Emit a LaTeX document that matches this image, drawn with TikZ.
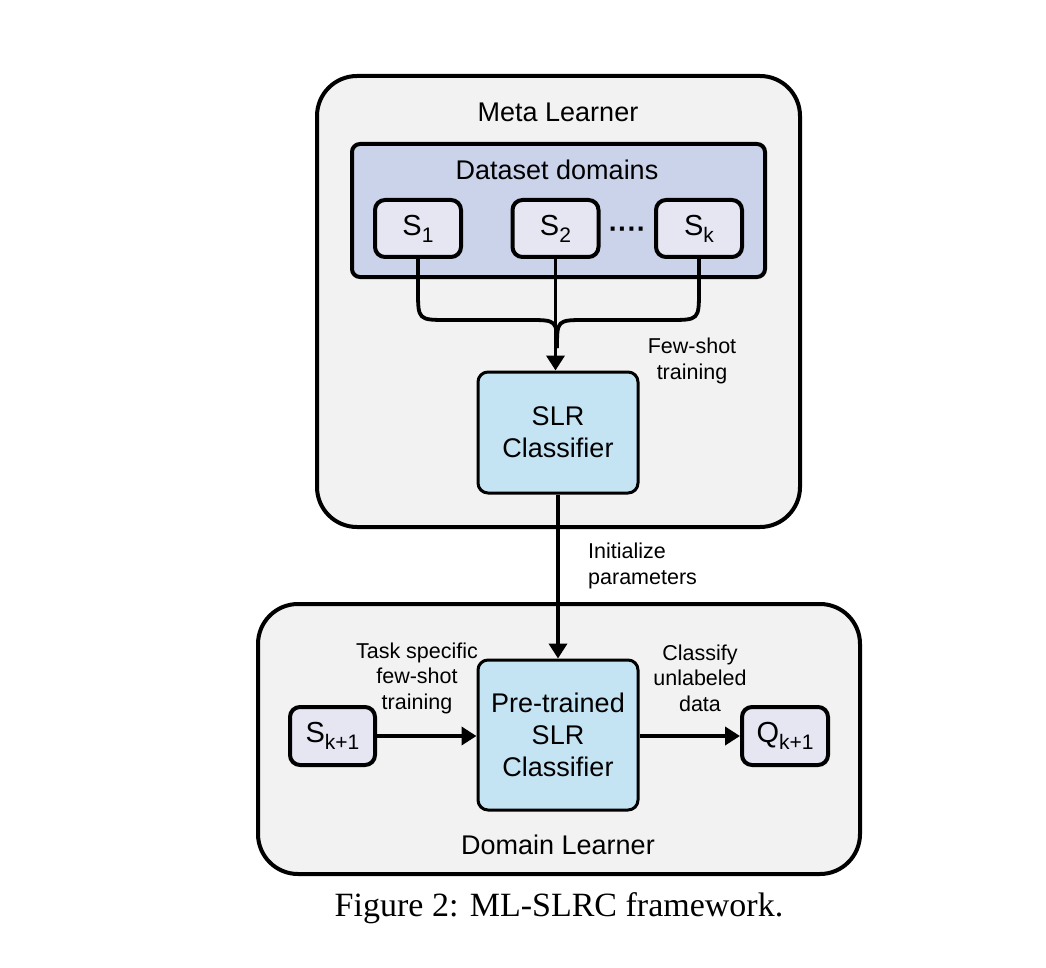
\documentclass[tikz,border=0pt]{standalone}
\usepackage{fontspec}
\setmainfont{Liberation Sans}
\newfontfamily\capfont{Liberation Serif}
\usetikzlibrary{arrows.meta}
\definecolor{outerfill}{HTML}{F2F2F2}
\definecolor{domfill}{HTML}{CBD3EA}
\definecolor{sfill}{HTML}{E6E6F3}
\definecolor{clsfill}{HTML}{C4E4F4}
\newcommand\lowsub[1]{\raisebox{-7pt}{\fontsize{21}{21}\selectfont #1}}
\tikzset{
  outerbox/.style={draw=black, line width=4pt, fill=outerfill, rounded corners=40pt, inner sep=0pt},
  dombox/.style={draw=black, line width=4pt, fill=domfill, rounded corners=8pt, inner sep=0pt},
  sbox/.style={draw=black, line width=4pt, fill=sfill, rounded corners=10pt, inner sep=0pt,
    minimum width=86pt, minimum height=57pt, font=\fontsize{29}{32}\selectfont},
  clsbox/.style={draw=black, line width=3pt, fill=clsfill, rounded corners=10pt, inner sep=0pt,
    minimum width=160pt, align=center, font=\fontsize{27}{32}\selectfont},
  title/.style={font=\fontsize{27}{32}\selectfont, inner sep=0pt},
  lbl/.style={font=\fontsize{21.5}{25.5}\selectfont, align=center, inner sep=0pt},
  conn/.style={line width=3.8pt},
  arr/.style={line width=3.8pt, -{Triangle[length=15pt,width=18pt]}},
}
\begin{document}
\begin{tikzpicture}[x=1pt,y=-1pt]
\useasboundingbox (0,0) rectangle (1046,968);
\fill[white] (0,0) rectangle (1046,968);

% Meta learner
\node[outerbox, minimum width=483pt, minimum height=451pt] (meta) at (558.5,301.5) {};
\node[title] (metat) at (558,112) {Meta Learner};
\node[dombox, minimum width=413pt, minimum height=133pt] (dom) at (558.5,210.5) {};
\node[title] (domt) at (557,170) {Dataset domains};
\node[sbox] (s1) at (418,228.5) {S\lowsub{1}};
\node[sbox] (s2) at (555.5,228.5) {S\lowsub{2}};
\node[sbox] (sk) at (699,228.5) {S\lowsub{k}};
\node[font=\fontsize{28}{32}\selectfont\bfseries, inner sep=0pt, anchor=base] (dots) at (627.5,239) {\symbol{"00B7}\symbol{"00B7}\symbol{"00B7}\symbol{"00B7}};

\node[clsbox, minimum height=121pt] (slr) at (558,432.5) {SLR\\Classifier};
\node[lbl] (few) at (692,361) {Few-shot\\training};

\coordinate (mL1) at (418,290);
\coordinate (mL2) at (448,320);
\coordinate (mL3) at (528,320);
\coordinate (mR1) at (699,290);
\coordinate (mR2) at (669,320);
\coordinate (mR3) at (586,320);
\coordinate (mC) at (557,348);

\draw[conn] (s1.south) -- (mL1) .. controls (418,320) .. (mL2) -- (mL3) .. controls (557,320) .. (mC);
\draw[conn] (sk.south) -- (mR1) .. controls (699,320) .. (mR2) -- (mR3) .. controls (557,320) .. (mC);
\draw[arr] (s2.south) -- (slr.north -| s2.south);

% Domain learner
\node[outerbox, minimum width=602pt, minimum height=270pt] (dl) at (559,739) {};
\node[title] (dlt) at (558,845) {Domain Learner};
\node[clsbox, minimum height=150pt] (pre) at (558,735) {Pre-trained\\SLR\\Classifier};
\node[sbox, minimum width=85pt, minimum height=58pt] (sk1) at (332.5,736) {S\lowsub{k+1}};
\node[sbox, minimum width=86pt, minimum height=58pt] (qk1) at (785,736) {Q\lowsub{k+1}};

\draw[arr] (slr.south) -- (pre.north);
\node[lbl, align=left, anchor=west] (init) at (588,566) {Initialize\\parameters};

\draw[arr] (sk1.east) -- (pre.west |- sk1.east);
\draw[arr] (pre.east |- qk1.west) -- (qk1.west);
\node[lbl] (task) at (417,678) {Task specific\\few-shot\\training};
\node[lbl] (cls) at (700,678) {Classify\\unlabeled\\data};

% Caption
\node[font=\capfont\fontsize{34}{40}\selectfont, inner sep=0pt] (cap) at (559,908) {Figure 2: ML-SLRC framework.};
\end{tikzpicture}
\end{document}
